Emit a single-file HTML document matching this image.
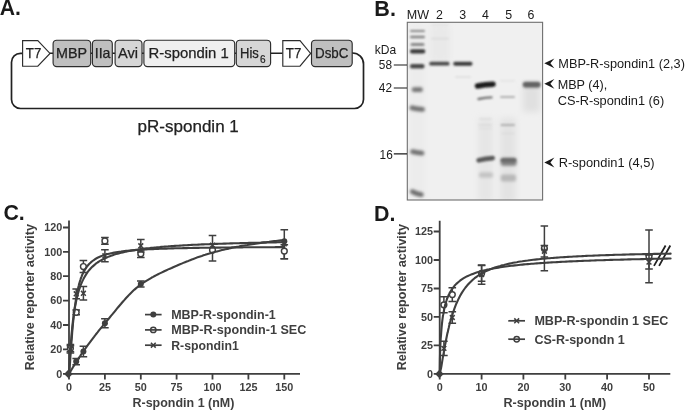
<!DOCTYPE html>
<html><head><meta charset="utf-8"><title>Figure</title>
<style>
html,body{margin:0;padding:0;background:#fff;}
svg{display:block;}
text{font-family:"Liberation Sans",Arial,Helvetica,sans-serif;}
.lab{font-size:14.3px;fill:#222;stroke:#222;stroke-width:0.25px;}
.b{font-weight:bold;}
.pan{font-weight:bold;font-size:22.3px;fill:#1a1a1a;}
.gt{font-size:12.4px;fill:#1a1a1a;}
.ct{font-weight:bold;font-size:10.8px;fill:#3f3f3f;}
.ca{font-weight:bold;font-size:12.4px;fill:#3f3f3f;}
.cl{font-weight:bold;font-size:12.4px;fill:#3f3f3f;}
</style></head><body>
<svg width="685" height="411" viewBox="0 0 685 411">
<defs>
<filter id="b1" filterUnits="userSpaceOnUse" x="400" y="15" width="150" height="195"><feGaussianBlur stdDeviation="0.7"/></filter>
<filter id="b2" filterUnits="userSpaceOnUse" x="400" y="15" width="150" height="195"><feGaussianBlur stdDeviation="1.1"/></filter>
<filter id="b3" filterUnits="userSpaceOnUse" x="400" y="15" width="150" height="195"><feGaussianBlur stdDeviation="1.8"/></filter>
<filter id="b4" filterUnits="userSpaceOnUse" x="400" y="15" width="150" height="195"><feGaussianBlur stdDeviation="3"/></filter>
</defs>
<rect x="0" y="0" width="685" height="411" fill="#ffffff"/>

<g id="panelA">
<text class="pan" x="-0.2" y="14.9" textLength="21.2" lengthAdjust="spacingAndGlyphs">A.</text>
<path d="M22.4,53.3 H20.5 A9,9 0 0 0 11.5,62.3 V99.5 A9,9 0 0 0 20.5,108.5 H354.5 A9,9 0 0 0 363.5,99.5 V64 A11,11 0 0 0 352.5,53 H352" fill="none" stroke="#222" stroke-width="1.7"/>
<path d="M50,53.3 H53 M90.7,53.3 H92.5 M112.3,53.3 H115 M142,53.3 H144 M234.7,53.3 H236.3 M270.6,53.3 H282.7 M310.5,53.3 H311.6" stroke="#222" stroke-width="1.4" fill="none"/>
<path d="M22.6,40.6 H37.8 L50,53.400000000000006 L37.8,66.2 H22.6 Z" fill="#fff" stroke="#2c2c2c" stroke-width="1.15"/>
<rect x="53.1" y="40.2" width="37.6" height="26.4" rx="3.6" ry="3.6" fill="#bfbfbf" stroke="#2c2c2c" stroke-width="1.15"/>
<rect x="92.4" y="40.2" width="19.9" height="26.4" rx="3.6" ry="3.6" fill="#bfbfbf" stroke="#2c2c2c" stroke-width="1.15"/>
<rect x="115.1" y="40.2" width="26.9" height="26.4" rx="3.6" ry="3.6" fill="#d6d6d6" stroke="#2c2c2c" stroke-width="1.15"/>
<rect x="143.9" y="40.2" width="90.8" height="26.4" rx="3.6" ry="3.6" fill="#efefef" stroke="#2c2c2c" stroke-width="1.15"/>
<rect x="236.3" y="40.2" width="34.3" height="26.4" rx="3.6" ry="3.6" fill="#d6d6d6" stroke="#2c2c2c" stroke-width="1.15"/>
<path d="M282.8,40.6 H300 L310.6,53.400000000000006 L300,66.2 H282.8 Z" fill="#fff" stroke="#2c2c2c" stroke-width="1.15"/>
<rect x="311.5" y="40.2" width="40.7" height="26.4" rx="3.6" ry="3.6" fill="#bfbfbf" stroke="#2c2c2c" stroke-width="1.15"/>
<text class="lab" x="25.8" y="58.4" textLength="15.5" lengthAdjust="spacingAndGlyphs">T7</text>
<text class="lab" x="56" y="58.4" textLength="31" lengthAdjust="spacingAndGlyphs">MBP</text>
<text class="lab" x="94.7" y="58.4" textLength="15.8" lengthAdjust="spacingAndGlyphs">IIa</text>
<text class="lab" x="118" y="58.4" textLength="20" lengthAdjust="spacingAndGlyphs">Avi</text>
<text class="lab" x="148.5" y="58.4" textLength="80.2" lengthAdjust="spacingAndGlyphs">R-spondin 1</text>
<text class="lab" x="240" y="58.4" textLength="18.8" lengthAdjust="spacingAndGlyphs">His</text>
<text x="260" y="62.8" font-size="10.4" fill="#222" stroke="#222" stroke-width="0.2" textLength="5.6" lengthAdjust="spacingAndGlyphs">6</text>
<text class="lab" x="285.8" y="58.4" textLength="15.5" lengthAdjust="spacingAndGlyphs">T7</text>
<text class="lab" x="315" y="58.4" textLength="33.4" lengthAdjust="spacingAndGlyphs">DsbC</text>
<text x="137.6" y="131.8" font-size="16.2" fill="#222" stroke="#222" stroke-width="0.25" textLength="101.2" lengthAdjust="spacingAndGlyphs">pR-spondin 1</text>
</g>
<g id="panelB">
<text class="pan" x="374.3" y="15.5" textLength="21.6" lengthAdjust="spacingAndGlyphs">B.</text>
<clipPath id="gelclip"><rect x="407.3" y="22.3" width="135.3" height="177.7"/></clipPath>
<rect x="407.3" y="22.3" width="135.3" height="177.7" fill="#f0f0f0"/>
<g clip-path="url(#gelclip)">
<g filter="url(#b4)">
<rect x="430" y="24" width="20" height="38" fill="#e9e9e9"/>
<rect x="478" y="118" width="15" height="85" fill="#e6e6e6"/>
<rect x="500" y="118" width="16" height="85" fill="#e3e3e3"/>
<rect x="523" y="86" width="17" height="26" fill="#e0e0e0"/>
<rect x="410" y="24" width="15" height="175" fill="#ececec"/>
</g>
<rect x="410" y="30.1" width="15.0" height="2" rx="1.0" fill="#8a8a8a" filter="url(#b2)" opacity="1"/>
<rect x="410" y="35.7" width="15.0" height="2.6" rx="1.3" fill="#858585" filter="url(#b2)" opacity="1"/>
<rect x="410.5" y="43.1" width="14.0" height="3" rx="1.5" fill="#8a8a8a" filter="url(#b2)" opacity="1"/>
<rect x="410" y="49.3" width="15.3" height="4.2" rx="2.0" fill="#3a3a3a" filter="url(#b2)" opacity="1"/>
<rect x="410" y="64.0" width="14.5" height="4.4" rx="2.0" fill="#4a4a4a" filter="url(#b2)" opacity="1"/>
<rect x="411.8" y="87.3" width="11.0" height="4.8" rx="2.0" fill="#747474" filter="url(#b3)" opacity="1"/>
<path d="M412,107.8 Q417.3,109.1 422.6,109.3" fill="none" stroke="#707070" stroke-width="4.8" stroke-linecap="round" filter="url(#b3)" opacity="1"/>
<path d="M412.6,151.7 Q417.3,152.9 422,153.2" fill="none" stroke="#707070" stroke-width="4.8" stroke-linecap="round" filter="url(#b3)" opacity="1"/>
<path d="M412.3,191.7 Q416.8,194.2 421.3,194.7" fill="none" stroke="#6c6c6c" stroke-width="4.8" stroke-linecap="round" filter="url(#b3)" opacity="1"/>
<rect x="429.2" y="61.8" width="20.4" height="3.8" rx="1.9" fill="#484848" filter="url(#b2)" opacity="1"/>
<rect x="453.2" y="61.7" width="19.3" height="4" rx="2.0" fill="#3a3a3a" filter="url(#b2)" opacity="1"/>
<rect x="431" y="37.9" width="18.0" height="1.4" rx="0.7" fill="#d6d6d6" filter="url(#b2)" opacity="1"/>
<rect x="431" y="24.4" width="18.0" height="1.2" rx="0.6" fill="#dedede" filter="url(#b2)" opacity="1"/>
<rect x="455" y="76.2" width="16.0" height="1.6" rx="0.8" fill="#dcdcdc" filter="url(#b2)" opacity="1"/>
<path d="M477.5,86.0 Q485.25,84.5 493,84.2" fill="none" stroke="#1e1e1e" stroke-width="5.4" stroke-linecap="round" filter="url(#b2)" opacity="1"/>
<path d="M478.5,99.0 Q485.0,97.6 491.5,97.4" fill="none" stroke="#767676" stroke-width="2.4" stroke-linecap="round" filter="url(#b2)" opacity="1"/>
<rect x="478.5" y="124.0" width="13.5" height="2" rx="1.0" fill="#dcdcdc" filter="url(#b2)" opacity="1"/>
<path d="M478.8,160.3 Q485.70000000000005,158.4 492.6,158.1" fill="none" stroke="#5a5a5a" stroke-width="4.8" stroke-linecap="round" filter="url(#b2)" opacity="1"/>
<rect x="479" y="172.2" width="14.0" height="5.5" rx="2.0" fill="#c4c4c4" filter="url(#b3)" opacity="1"/>
<rect x="479" y="118.2" width="13.0" height="1.6" rx="0.8" fill="#dcdcdc" filter="url(#b2)" opacity="1"/>
<rect x="479" y="127.7" width="13.0" height="1.6" rx="0.8" fill="#dedede" filter="url(#b2)" opacity="1"/>
<rect x="500" y="96.0" width="15.0" height="2" rx="1.0" fill="#b0b0b0" filter="url(#b2)" opacity="1"/>
<rect x="500" y="80.1" width="15.0" height="1.4" rx="0.7" fill="#e2e2e2" filter="url(#b2)" opacity="1"/>
<rect x="500.5" y="124.1" width="14.5" height="1.8" rx="0.9" fill="#b0b0b0" filter="url(#b2)" opacity="1"/>
<rect x="501" y="132.7" width="14.0" height="1.6" rx="0.8" fill="#dcdcdc" filter="url(#b2)" opacity="1"/>
<rect x="500.8" y="157.8" width="15.7" height="8" rx="2.0" fill="#808080" filter="url(#b3)" opacity="1"/>
<rect x="500.8" y="158.7" width="15.2" height="3" rx="1.5" fill="#666" filter="url(#b2)" opacity="1"/>
<rect x="500.8" y="174.5" width="15.2" height="7" rx="2.0" fill="#b8b8b8" filter="url(#b3)" opacity="1"/>
<rect x="523" y="81.8" width="17.3" height="6" rx="2.0" fill="#6a6a6a" filter="url(#b3)" opacity="1"/>
<rect x="523.5" y="83.2" width="16.5" height="2.5" rx="1.2" fill="#5e5e5e" filter="url(#b2)" opacity="1"/>
</g>
<rect x="407.3" y="22.3" width="135.3" height="177.7" fill="none" stroke="#6e6e6e" stroke-width="1.1"/>
<text class="gt" x="406.8" y="19" textLength="22.3" lengthAdjust="spacingAndGlyphs">MW</text>
<text class="gt" x="439.5" y="19" text-anchor="middle">2</text>
<text class="gt" x="462.6" y="19" text-anchor="middle">3</text>
<text class="gt" x="485.4" y="19" text-anchor="middle">4</text>
<text class="gt" x="508.6" y="19" text-anchor="middle">5</text>
<text class="gt" x="531" y="19" text-anchor="middle">6</text>
<text class="gt" x="374.8" y="53.7" textLength="21.4" lengthAdjust="spacingAndGlyphs">kDa</text>
<text class="gt" x="378.8" y="69.4" textLength="13.2" lengthAdjust="spacingAndGlyphs">58</text>
<text class="gt" x="378.8" y="92.2" textLength="13.2" lengthAdjust="spacingAndGlyphs">42</text>
<text class="gt" x="379.6" y="158.6" textLength="13.2" lengthAdjust="spacingAndGlyphs">16</text>
<path d="M393.8,65 H407 M393.8,88 H407 M393.8,153.9 H407" stroke="#1a1a1a" stroke-width="1.15" fill="none"/>
<path d="M544.3,63.3 L554.4,58.4 L550.4,63.3 L554.4,68.2 Z" fill="#1a1a1a"/>
<path d="M544.3,83.8 L554.4,78.89999999999999 L550.4,83.8 L554.4,88.7 Z" fill="#1a1a1a"/>
<path d="M544.3,162.5 L554.4,157.6 L550.4,162.5 L554.4,167.4 Z" fill="#1a1a1a"/>
<text class="gt" x="558.3" y="68.1" textLength="126.6" lengthAdjust="spacingAndGlyphs">MBP-R-spondin1 (2,3)</text>
<text class="gt" x="557.7" y="88.7" textLength="49.5" lengthAdjust="spacingAndGlyphs">MBP (4),</text>
<text class="gt" x="557.7" y="104.7" textLength="106.5" lengthAdjust="spacingAndGlyphs">CS-R-spondin1 (6)</text>
<text class="gt" x="558.8" y="167.3" textLength="95.8" lengthAdjust="spacingAndGlyphs">R-spondin1 (4,5)</text>
</g>
<g id="panelC">
<text class="pan" x="3.4" y="219.6" textLength="21.4" lengthAdjust="spacingAndGlyphs">C.</text>
<path d="M69.0,220.4 V373.8 M68.3,373.8 H300 M69.0,373.8 V379.40000000000003 M104.9,373.8 V379.40000000000003 M140.8,373.8 V379.40000000000003 M176.6,373.8 V379.40000000000003 M212.5,373.8 V379.40000000000003 M248.4,373.8 V379.40000000000003 M284.3,373.8 V379.40000000000003 M63.0,373.8 H69.0 M63.0,349.4 H69.0 M63.0,325.0 H69.0 M63.0,300.6 H69.0 M63.0,276.2 H69.0 M63.0,251.9 H69.0 M63.0,227.5 H69.0" fill="none" stroke="#3f3f3f" stroke-width="1.8"/>
<text class="ct" x="69.0" y="391" text-anchor="middle">0</text>
<text class="ct" x="104.9" y="391" text-anchor="middle">25</text>
<text class="ct" x="140.8" y="391" text-anchor="middle">50</text>
<text class="ct" x="176.6" y="391" text-anchor="middle">75</text>
<text class="ct" x="212.5" y="391" text-anchor="middle">100</text>
<text class="ct" x="248.4" y="391" text-anchor="middle">125</text>
<text class="ct" x="284.3" y="391" text-anchor="middle">150</text>
<text class="ct" x="62.2" y="377.6" text-anchor="end">0</text>
<text class="ct" x="62.2" y="353.2" text-anchor="end">20</text>
<text class="ct" x="62.2" y="328.8" text-anchor="end">40</text>
<text class="ct" x="62.2" y="304.4" text-anchor="end">60</text>
<text class="ct" x="62.2" y="280.0" text-anchor="end">80</text>
<text class="ct" x="62.2" y="255.7" text-anchor="end">100</text>
<text class="ct" x="62.2" y="231.3" text-anchor="end">120</text>
<text class="ca" transform="translate(34,370.3) rotate(-90)" textLength="146.3" lengthAdjust="spacingAndGlyphs">Relative reporter activity</text>
<text class="ca" x="132.5" y="407.2" textLength="101.9" lengthAdjust="spacingAndGlyphs">R-spondin 1 (nM)</text>
<path d="M76.2,358.6 V364.7 M72.4,358.6 H80.0 M72.4,364.7 H80.0" fill="none" stroke="#3f3f3f" stroke-width="1.5"/>
<circle cx="76.2" cy="361.6" r="3.0" fill="#3f3f3f"/>
<path d="M83.4,346.2 V356.7 M79.6,346.2 H87.2 M79.6,356.7 H87.2" fill="none" stroke="#3f3f3f" stroke-width="1.5"/>
<circle cx="83.4" cy="351.5" r="3.0" fill="#3f3f3f"/>
<path d="M104.9,318.8 V327.8 M101.1,318.8 H108.7 M101.1,327.8 H108.7" fill="none" stroke="#3f3f3f" stroke-width="1.5"/>
<circle cx="104.9" cy="323.3" r="3.0" fill="#3f3f3f"/>
<path d="M140.8,281.0 V287.1 M137.0,281.0 H144.6 M137.0,287.1 H144.6" fill="none" stroke="#3f3f3f" stroke-width="1.5"/>
<circle cx="140.8" cy="284.0" r="3.0" fill="#3f3f3f"/>
<circle cx="212.5" cy="250.6" r="3.0" fill="#3f3f3f"/>
<circle cx="284.3" cy="241.2" r="3.0" fill="#3f3f3f"/>
<path d="M212.5,235.5 V261.1 M208.7,235.5 H216.3 M208.7,261.1 H216.3" fill="none" stroke="#3f3f3f" stroke-width="1.5"/>
<path d="M284.3,229.7 V258.8 M280.5,229.7 H288.1 M280.5,258.8 H288.1" fill="none" stroke="#3f3f3f" stroke-width="1.5"/>
<path d="M284.3,244.7 V258.8 M280.5,244.7 H288.1 M280.5,258.8 H288.1" fill="none" stroke="#3f3f3f" stroke-width="1.5"/>
<path d="M70.4,344.5 V351.8 M66.6,344.5 H74.2 M66.6,351.8 H74.2" fill="none" stroke="#3f3f3f" stroke-width="1.5"/>
<circle cx="70.4" cy="348.2" r="2.9" fill="#fff" stroke="#3f3f3f" stroke-width="1.45"/>
<path d="M76.2,309.9 V314.8 M72.4,309.9 H80.0 M72.4,314.8 H80.0" fill="none" stroke="#3f3f3f" stroke-width="1.5"/>
<circle cx="76.2" cy="312.3" r="2.9" fill="#fff" stroke="#3f3f3f" stroke-width="1.45"/>
<path d="M83.4,260.4 V272.6 M79.6,260.4 H87.2 M79.6,272.6 H87.2" fill="none" stroke="#3f3f3f" stroke-width="1.5"/>
<circle cx="83.4" cy="266.5" r="2.9" fill="#fff" stroke="#3f3f3f" stroke-width="1.45"/>
<path d="M104.9,237.6 V244.2 M101.1,237.6 H108.7 M101.1,244.2 H108.7" fill="none" stroke="#3f3f3f" stroke-width="1.5"/>
<circle cx="104.9" cy="240.9" r="2.9" fill="#fff" stroke="#3f3f3f" stroke-width="1.45"/>
<path d="M140.8,250.1 V257.5 M137.0,250.1 H144.6 M137.0,257.5 H144.6" fill="none" stroke="#3f3f3f" stroke-width="1.5"/>
<circle cx="140.8" cy="253.8" r="2.9" fill="#fff" stroke="#3f3f3f" stroke-width="1.45"/>
<circle cx="212.5" cy="250.0" r="2.9" fill="#fff" stroke="#3f3f3f" stroke-width="1.45"/>
<circle cx="284.3" cy="251.1" r="2.9" fill="#fff" stroke="#3f3f3f" stroke-width="1.45"/>
<path d="M70.4,345.8 V353.1 M66.6,345.8 H74.2 M66.6,353.1 H74.2" fill="none" stroke="#3f3f3f" stroke-width="1.5"/>
<path d="M68.0,347.0 L72.8,351.8 M68.0,351.8 L72.8,347.0" fill="none" stroke="#3f3f3f" stroke-width="1.5"/>
<path d="M76.2,288.9 V298.7 M72.4,288.9 H80.0 M72.4,298.7 H80.0" fill="none" stroke="#3f3f3f" stroke-width="1.5"/>
<path d="M73.8,291.4 L78.6,296.2 M73.8,296.2 L78.6,291.4" fill="none" stroke="#3f3f3f" stroke-width="1.5"/>
<path d="M83.4,286.6 V300.0 M79.6,286.6 H87.2 M79.6,300.0 H87.2" fill="none" stroke="#3f3f3f" stroke-width="1.5"/>
<path d="M81.0,290.9 L85.8,295.7 M81.0,295.7 L85.8,290.9" fill="none" stroke="#3f3f3f" stroke-width="1.5"/>
<path d="M104.9,249.7 V261.8 M101.1,249.7 H108.7 M101.1,261.8 H108.7" fill="none" stroke="#3f3f3f" stroke-width="1.5"/>
<path d="M102.5,253.4 L107.3,258.2 M102.5,258.2 L107.3,253.4" fill="none" stroke="#3f3f3f" stroke-width="1.5"/>
<path d="M140.8,239.4 V252.1 M137.0,239.4 H144.6 M137.0,252.1 H144.6" fill="none" stroke="#3f3f3f" stroke-width="1.5"/>
<path d="M138.4,243.4 L143.2,248.2 M138.4,248.2 L143.2,243.4" fill="none" stroke="#3f3f3f" stroke-width="1.5"/>
<path d="M210.1,242.7 L214.9,247.5 M210.1,247.5 L214.9,242.7" fill="none" stroke="#3f3f3f" stroke-width="1.5"/>
<path d="M281.9,241.5 L286.7,246.3 M281.9,246.3 L286.7,241.5" fill="none" stroke="#3f3f3f" stroke-width="1.5"/>
<polyline points="69.0,373.8 69.4,373.2 69.7,372.6 70.1,372.0 70.4,371.4 70.8,370.8 71.2,370.2 71.5,369.6 71.9,369.0 72.2,368.4 72.6,367.8 72.9,367.2 73.3,366.7 73.7,366.1 74.0,365.5 74.4,364.9 74.7,364.4 75.1,363.8 75.5,363.2 75.8,362.7 76.2,362.1 76.5,361.5 76.9,361.0 77.3,360.4 77.6,359.9 78.0,359.3 78.3,358.8 78.7,358.2 79.0,357.7 79.4,357.1 79.8,356.6 80.1,356.1 80.5,355.5 80.8,355.0 81.2,354.5 81.6,353.9 81.9,353.4 82.3,352.9 82.6,352.4 83.0,351.9 83.4,351.4 84.1,350.4 85.8,348.0 87.4,345.7 89.1,343.4 90.8,341.1 92.5,338.9 94.2,336.7 95.8,334.5 97.5,332.4 99.2,330.2 100.9,328.1 102.6,326.1 104.3,324.1 105.9,322.0 107.6,320.0 109.3,318.0 111.0,315.9 112.7,313.9 114.4,311.8 116.0,309.8 117.7,307.7 119.4,305.7 121.1,303.8 122.8,301.8 124.5,299.9 126.1,298.0 127.8,296.2 129.5,294.4 131.2,292.7 132.9,291.1 134.5,289.6 136.2,288.1 137.9,286.7 139.6,285.4 141.3,284.2 143.0,283.0 144.6,281.9 146.3,280.8 148.0,279.8 149.7,278.8 151.4,277.8 153.1,276.9 154.7,276.0 156.4,275.1 158.1,274.2 159.8,273.4 161.5,272.6 163.2,271.8 164.8,271.0 166.5,270.2 168.2,269.4 169.9,268.7 171.6,268.0 173.2,267.2 174.9,266.5 176.6,265.8 178.3,265.0 180.0,264.3 181.7,263.6 183.3,262.9 185.0,262.2 186.7,261.5 188.4,260.9 190.1,260.2 191.8,259.5 193.4,258.9 195.1,258.3 196.8,257.6 198.5,257.0 200.2,256.4 201.8,255.9 203.5,255.3 205.2,254.8 206.9,254.2 208.6,253.7 210.3,253.2 211.9,252.7 213.6,252.3 215.3,251.8 217.0,251.4 218.7,251.0 220.4,250.5 222.0,250.1 223.7,249.7 225.4,249.3 227.1,248.9 228.8,248.6 230.5,248.2 232.1,247.8 233.8,247.5 235.5,247.1 237.2,246.8 238.9,246.5 240.5,246.1 242.2,245.8 243.9,245.5 245.6,245.2 247.3,245.0 249.0,244.7 250.6,244.4 252.3,244.2 254.0,243.9 255.7,243.6 257.4,243.4 259.1,243.1 260.7,242.9 262.4,242.6 264.1,242.4 265.8,242.2 267.5,242.0 269.2,241.8 270.8,241.5 272.5,241.3 274.2,241.1 275.9,241.0 277.6,240.8 279.2,240.6 280.9,240.4 282.6,240.3 284.3,240.1" fill="none" stroke="#3f3f3f" stroke-width="2.1" stroke-linejoin="round" stroke-linecap="round"/>
<polyline points="69.0,373.8 69.4,371.0 69.7,366.8 70.1,361.9 70.4,356.8 70.8,351.6 71.2,346.5 71.5,341.6 71.9,336.9 72.2,332.5 72.6,328.2 72.9,324.3 73.3,320.5 73.7,317.0 74.0,313.7 74.4,310.7 74.7,307.8 75.1,305.1 75.5,302.6 75.8,300.2 76.2,298.0 76.5,295.9 76.9,293.9 77.3,292.1 77.6,290.4 78.0,288.7 78.3,287.2 78.7,285.8 79.0,284.4 79.4,283.1 79.8,281.9 80.1,280.7 80.5,279.6 80.8,278.5 81.2,277.5 81.6,276.6 81.9,275.7 82.3,274.8 82.6,274.0 83.0,273.2 83.4,272.5 84.1,271.1 85.8,268.3 87.4,266.0 89.1,264.0 90.8,262.4 92.5,261.0 94.2,259.8 95.8,258.7 97.5,257.8 99.2,257.0 100.9,256.3 102.6,255.6 104.3,255.1 105.9,254.6 107.6,254.1 109.3,253.7 111.0,253.3 112.7,252.9 114.4,252.6 116.0,252.3 117.7,252.0 119.4,251.8 121.1,251.6 122.8,251.3 124.5,251.1 126.1,250.9 127.8,250.8 129.5,250.6 131.2,250.4 132.9,250.3 134.5,250.2 136.2,250.0 137.9,249.9 139.6,249.8 141.3,249.7 143.0,249.6 144.6,249.5 146.3,249.4 148.0,249.3 149.7,249.2 151.4,249.1 153.1,249.1 154.7,249.0 156.4,248.9 158.1,248.9 159.8,248.8 161.5,248.7 163.2,248.7 164.8,248.6 166.5,248.6 168.2,248.5 169.9,248.5 171.6,248.4 173.2,248.4 174.9,248.3 176.6,248.3 178.3,248.3 180.0,248.2 181.7,248.2 183.3,248.1 185.0,248.1 186.7,248.1 188.4,248.0 190.1,248.0 191.8,248.0 193.4,247.9 195.1,247.9 196.8,247.9 198.5,247.9 200.2,247.8 201.8,247.8 203.5,247.8 205.2,247.8 206.9,247.7 208.6,247.7 210.3,247.7 211.9,247.7 213.6,247.6 215.3,247.6 217.0,247.6 218.7,247.6 220.4,247.6 222.0,247.5 223.7,247.5 225.4,247.5 227.1,247.5 228.8,247.5 230.5,247.5 232.1,247.4 233.8,247.4 235.5,247.4 237.2,247.4 238.9,247.4 240.5,247.4 242.2,247.4 243.9,247.3 245.6,247.3 247.3,247.3 249.0,247.3 250.6,247.3 252.3,247.3 254.0,247.3 255.7,247.3 257.4,247.3 259.1,247.2 260.7,247.2 262.4,247.2 264.1,247.2 265.8,247.2 267.5,247.2 269.2,247.2 270.8,247.2 272.5,247.2 274.2,247.2 275.9,247.1 277.6,247.1 279.2,247.1 280.9,247.1 282.6,247.1 284.3,247.1" fill="none" stroke="#3f3f3f" stroke-width="2.1" stroke-linejoin="round" stroke-linecap="round"/>
<polyline points="69.0,373.8 69.4,366.4 69.7,359.7 70.1,353.7 70.4,348.3 70.8,343.3 71.2,338.8 71.5,334.6 71.9,330.8 72.2,327.3 72.6,324.0 72.9,321.0 73.3,318.2 73.7,315.5 74.0,313.1 74.4,310.7 74.7,308.6 75.1,306.5 75.5,304.6 75.8,302.8 76.2,301.0 76.5,299.4 76.9,297.8 77.3,296.4 77.6,294.9 78.0,293.6 78.3,292.3 78.7,291.1 79.0,289.9 79.4,288.8 79.8,287.8 80.1,286.7 80.5,285.8 80.8,284.8 81.2,283.9 81.6,283.0 81.9,282.2 82.3,281.4 82.6,280.6 83.0,279.9 83.4,279.1 84.1,277.8 85.8,274.9 87.4,272.4 89.1,270.2 90.8,268.3 92.5,266.6 94.2,265.1 95.8,263.7 97.5,262.5 99.2,261.4 100.9,260.4 102.6,259.5 104.3,258.6 105.9,257.8 107.6,257.1 109.3,256.4 111.0,255.8 112.7,255.2 114.4,254.6 116.0,254.1 117.7,253.7 119.4,253.2 121.1,252.8 122.8,252.4 124.5,252.0 126.1,251.6 127.8,251.3 129.5,251.0 131.2,250.7 132.9,250.4 134.5,250.1 136.2,249.8 137.9,249.6 139.6,249.3 141.3,249.1 143.0,248.9 144.6,248.6 146.3,248.4 148.0,248.2 149.7,248.1 151.4,247.9 153.1,247.7 154.7,247.5 156.4,247.4 158.1,247.2 159.8,247.1 161.5,246.9 163.2,246.8 164.8,246.6 166.5,246.5 168.2,246.4 169.9,246.2 171.6,246.1 173.2,246.0 174.9,245.9 176.6,245.8 178.3,245.7 180.0,245.6 181.7,245.5 183.3,245.4 185.0,245.3 186.7,245.2 188.4,245.1 190.1,245.0 191.8,244.9 193.4,244.8 195.1,244.8 196.8,244.7 198.5,244.6 200.2,244.5 201.8,244.4 203.5,244.4 205.2,244.3 206.9,244.2 208.6,244.2 210.3,244.1 211.9,244.0 213.6,244.0 215.3,243.9 217.0,243.9 218.7,243.8 220.4,243.7 222.0,243.7 223.7,243.6 225.4,243.6 227.1,243.5 228.8,243.5 230.5,243.4 232.1,243.4 233.8,243.3 235.5,243.3 237.2,243.2 238.9,243.2 240.5,243.1 242.2,243.1 243.9,243.0 245.6,243.0 247.3,243.0 249.0,242.9 250.6,242.9 252.3,242.8 254.0,242.8 255.7,242.8 257.4,242.7 259.1,242.7 260.7,242.7 262.4,242.6 264.1,242.6 265.8,242.6 267.5,242.5 269.2,242.5 270.8,242.5 272.5,242.4 274.2,242.4 275.9,242.4 277.6,242.3 279.2,242.3 280.9,242.3 282.6,242.2 284.3,242.2" fill="none" stroke="#3f3f3f" stroke-width="2.1" stroke-linejoin="round" stroke-linecap="round"/>
<path d="M64.10000000000001,373.90000000000003 L68.4,369.6 L72.7,373.90000000000003 L68.4,378.20000000000005 Z" fill="#3f3f3f"/>
<path d="M145,314.6 H161.6" stroke="#3f3f3f" stroke-width="1.7"/>
<circle cx="153.3" cy="314.6" r="3.0" fill="#3f3f3f"/>
<text class="cl" x="171.2" y="318.9" textLength="104.6" lengthAdjust="spacingAndGlyphs">MBP-R-spondin-1</text>
<path d="M145,329.9 H161.6" stroke="#3f3f3f" stroke-width="1.7"/>
<circle cx="153.3" cy="329.9" r="2.7" fill="none" stroke="#3f3f3f" stroke-width="1.45"/>
<text class="cl" x="171.2" y="334.2" textLength="135.2" lengthAdjust="spacingAndGlyphs">MBP-R-spondin-1 SEC</text>
<path d="M145,345.2 H161.6" stroke="#3f3f3f" stroke-width="1.7"/>
<path d="M150.9,342.8 L155.7,347.6 M150.9,347.6 L155.7,342.8" fill="none" stroke="#3f3f3f" stroke-width="1.5"/>
<text class="cl" x="171.2" y="349.5" textLength="67.6" lengthAdjust="spacingAndGlyphs">R-spondin1</text>
</g>
<g id="panelD">
<text class="pan" x="374.1" y="220.7" textLength="21.4" lengthAdjust="spacingAndGlyphs">D.</text>
<path d="M439.7,220.7 V373.9 M439.0,373.9 H670.3 M439.7,373.9 V379.5 M481.6,373.9 V379.5 M523.4,373.9 V379.5 M565.3,373.9 V379.5 M607.1,373.9 V379.5 M649.0,373.9 V379.5 M433.7,373.9 H439.7 M433.7,345.4 H439.7 M433.7,316.9 H439.7 M433.7,288.5 H439.7 M433.7,260.0 H439.7 M433.7,231.5 H439.7" fill="none" stroke="#3f3f3f" stroke-width="1.8"/>
<text class="ct" x="439.7" y="391" text-anchor="middle">0</text>
<text class="ct" x="481.6" y="391" text-anchor="middle">10</text>
<text class="ct" x="523.4" y="391" text-anchor="middle">20</text>
<text class="ct" x="565.3" y="391" text-anchor="middle">30</text>
<text class="ct" x="607.1" y="391" text-anchor="middle">40</text>
<text class="ct" x="649.0" y="391" text-anchor="middle">50</text>
<text class="ct" x="432.9" y="377.7" text-anchor="end">0</text>
<text class="ct" x="432.9" y="349.2" text-anchor="end">25</text>
<text class="ct" x="432.9" y="320.8" text-anchor="end">50</text>
<text class="ct" x="432.9" y="292.3" text-anchor="end">75</text>
<text class="ct" x="432.9" y="263.8" text-anchor="end">100</text>
<text class="ct" x="432.9" y="235.3" text-anchor="end">125</text>
<text class="ca" transform="translate(405.7,370.3) rotate(-90)" textLength="146.3" lengthAdjust="spacingAndGlyphs">Relative reporter activity</text>
<text class="ca" x="503.5" y="407.2" textLength="102.8" lengthAdjust="spacingAndGlyphs">R-spondin 1 (nM)</text>
<path d="M654,265.9 L665.6,245.5 M659.1,265.9 L670.3,245.5" stroke="#222" stroke-width="1.8" fill="none"/>
<path d="M443.9,296.7 V312.8 M440.1,296.7 H447.7 M440.1,312.8 H447.7" fill="none" stroke="#3f3f3f" stroke-width="1.5"/>
<circle cx="443.9" cy="304.8" r="2.9" fill="#fff" stroke="#3f3f3f" stroke-width="1.45"/>
<path d="M452.3,287.8 V301.5 M448.5,287.8 H456.1 M448.5,301.5 H456.1" fill="none" stroke="#3f3f3f" stroke-width="1.5"/>
<circle cx="452.3" cy="294.6" r="2.9" fill="#fff" stroke="#3f3f3f" stroke-width="1.45"/>
<path d="M481.6,265.4 V281.3 M477.8,265.4 H485.4 M477.8,281.3 H485.4" fill="none" stroke="#3f3f3f" stroke-width="1.5"/>
<circle cx="481.6" cy="273.3" r="2.9" fill="#fff" stroke="#3f3f3f" stroke-width="1.45"/>
<path d="M544.4,226.1 V270.7 M540.6,226.1 H548.1 M540.6,270.7 H548.1" fill="none" stroke="#3f3f3f" stroke-width="1.5"/>
<circle cx="544.4" cy="248.4" r="2.9" fill="#fff" stroke="#3f3f3f" stroke-width="1.45"/>
<path d="M649.0,229.9 V282.8 M645.2,229.9 H652.8 M645.2,282.8 H652.8" fill="none" stroke="#3f3f3f" stroke-width="1.5"/>
<circle cx="649.0" cy="256.4" r="2.9" fill="#fff" stroke="#3f3f3f" stroke-width="1.45"/>
<path d="M443.9,341.2 V355.6 M440.1,341.2 H447.7 M440.1,355.6 H447.7" fill="none" stroke="#3f3f3f" stroke-width="1.5"/>
<path d="M441.5,346.0 L446.3,350.8 M441.5,350.8 L446.3,346.0" fill="none" stroke="#3f3f3f" stroke-width="1.5"/>
<path d="M452.3,311.8 V323.2 M448.5,311.8 H456.1 M448.5,323.2 H456.1" fill="none" stroke="#3f3f3f" stroke-width="1.5"/>
<path d="M449.9,315.1 L454.7,319.9 M449.9,319.9 L454.7,315.1" fill="none" stroke="#3f3f3f" stroke-width="1.5"/>
<path d="M481.6,264.9 V284.3 M477.8,264.9 H485.4 M477.8,284.3 H485.4" fill="none" stroke="#3f3f3f" stroke-width="1.5"/>
<path d="M479.2,272.2 L484.0,277.0 M479.2,277.0 L484.0,272.2" fill="none" stroke="#3f3f3f" stroke-width="1.5"/>
<path d="M544.4,245.5 V256.9 M540.6,245.5 H548.1 M540.6,256.9 H548.1" fill="none" stroke="#3f3f3f" stroke-width="1.5"/>
<path d="M542.0,248.8 L546.8,253.6 M542.0,253.6 L546.8,248.8" fill="none" stroke="#3f3f3f" stroke-width="1.5"/>
<path d="M649.0,255.1 V269.0 M645.2,255.1 H652.8 M645.2,269.0 H652.8" fill="none" stroke="#3f3f3f" stroke-width="1.5"/>
<path d="M646.6,259.7 L651.4,264.5 M646.6,264.5 L651.4,259.7" fill="none" stroke="#3f3f3f" stroke-width="1.5"/>
<polyline points="439.7,373.9 439.9,359.7 440.1,352.4 440.3,346.8 440.5,342.4 440.7,338.6 441.0,335.3 441.2,332.4 441.4,329.8 441.6,327.5 441.8,325.3 442.0,323.4 442.2,321.6 442.4,319.9 442.6,318.3 442.8,316.8 443.0,315.5 443.3,314.2 443.5,313.0 443.7,311.8 443.9,310.7 444.1,309.7 444.3,308.7 444.5,307.7 444.7,306.8 444.9,306.0 445.1,305.2 445.4,304.4 445.6,303.6 445.8,302.9 446.0,302.2 446.2,301.5 446.4,300.9 446.6,300.2 446.8,299.6 447.0,299.0 447.2,298.5 447.4,297.9 447.7,297.4 447.9,296.9 448.1,296.4 448.3,295.9 448.5,295.4 448.7,294.9 448.9,294.5 449.1,294.1 449.3,293.6 449.5,293.2 449.7,292.8 450.0,292.4 450.2,292.1 450.4,291.7 450.6,291.3 450.8,291.0 451.0,290.6 451.2,290.3 451.4,290.0 451.6,289.6 451.8,289.3 452.0,289.0 452.3,288.7 452.7,288.1 454.5,285.8 456.3,283.9 458.2,282.2 460.0,280.7 461.8,279.4 463.7,278.2 465.5,277.2 467.3,276.2 469.2,275.4 471.0,274.6 472.8,273.9 474.6,273.2 476.5,272.6 478.3,272.0 480.1,271.5 482.0,271.0 483.8,270.5 485.6,270.1 487.5,269.6 489.3,269.3 491.1,268.9 493.0,268.5 494.8,268.2 496.6,267.9 498.4,267.6 500.3,267.3 502.1,267.0 503.9,266.7 505.8,266.5 507.6,266.2 509.4,266.0 511.3,265.8 513.1,265.6 514.9,265.4 516.8,265.2 518.6,265.0 520.4,264.8 522.3,264.6 524.1,264.4 525.9,264.3 527.7,264.1 529.6,264.0 531.4,263.8 533.2,263.7 535.1,263.5 536.9,263.4 538.7,263.3 540.6,263.1 542.4,263.0 544.2,262.9 546.1,262.8 547.9,262.6 549.7,262.5 551.5,262.4 553.4,262.3 555.2,262.2 557.0,262.1 558.9,262.0 560.7,261.9 562.5,261.8 564.4,261.7 566.2,261.6 568.0,261.5 569.9,261.4 571.7,261.4 573.5,261.3 575.3,261.2 577.2,261.1 579.0,261.0 580.8,261.0 582.7,260.9 584.5,260.8 586.3,260.7 588.2,260.7 590.0,260.6 591.8,260.5 593.7,260.5 595.5,260.4 597.3,260.3 599.2,260.3 601.0,260.2 602.8,260.2 604.6,260.1 606.5,260.0 608.3,260.0 610.1,259.9 612.0,259.9 613.8,259.8 615.6,259.8 617.5,259.7 619.3,259.7 621.1,259.6 623.0,259.6 624.8,259.5 626.6,259.5 628.4,259.4 630.3,259.4 632.1,259.3 633.9,259.3 635.8,259.2 637.6,259.2 639.4,259.2 641.3,259.1 643.1,259.1 644.9,259.0 646.8,259.0 648.6,258.9 650.4,258.9 652.2,258.9 654.1,258.8 655.9,258.8 657.7,258.7 659.6,258.7 661.4,258.7 663.2,258.6 665.1,258.6 666.9,258.6 668.7,258.5 670.6,258.5" fill="none" stroke="#3f3f3f" stroke-width="2.1" stroke-linejoin="round" stroke-linecap="round"/>
<polyline points="439.7,373.9 439.9,373.3 440.1,372.6 440.3,371.6 440.5,370.6 440.7,369.6 441.0,368.5 441.2,367.3 441.4,366.2 441.6,365.0 441.8,363.8 442.0,362.6 442.2,361.3 442.4,360.1 442.6,358.9 442.8,357.7 443.0,356.5 443.3,355.2 443.5,354.0 443.7,352.8 443.9,351.6 444.1,350.5 444.3,349.3 444.5,348.1 444.7,347.0 444.9,345.9 445.1,344.7 445.4,343.6 445.6,342.5 445.8,341.5 446.0,340.4 446.2,339.3 446.4,338.3 446.6,337.3 446.8,336.3 447.0,335.3 447.2,334.3 447.4,333.3 447.7,332.4 447.9,331.5 448.1,330.5 448.3,329.6 448.5,328.7 448.7,327.9 448.9,327.0 449.1,326.1 449.3,325.3 449.5,324.5 449.7,323.7 450.0,322.9 450.2,322.1 450.4,321.3 450.6,320.5 450.8,319.8 451.0,319.1 451.2,318.3 451.4,317.6 451.6,316.9 451.8,316.2 452.0,315.5 452.3,314.9 452.7,313.6 454.5,308.3 456.3,303.7 458.2,299.6 460.0,296.0 461.8,292.9 463.7,290.0 465.5,287.5 467.3,285.3 469.2,283.2 471.0,281.4 472.8,279.7 474.6,278.2 476.5,276.8 478.3,275.5 480.1,274.3 482.0,273.3 483.8,272.3 485.6,271.3 487.5,270.5 489.3,269.7 491.1,268.9 493.0,268.2 494.8,267.6 496.6,267.0 498.4,266.4 500.3,265.9 502.1,265.3 503.9,264.9 505.8,264.4 507.6,264.0 509.4,263.6 511.3,263.2 513.1,262.8 514.9,262.5 516.8,262.2 518.6,261.8 520.4,261.5 522.3,261.3 524.1,261.0 525.9,260.7 527.7,260.5 529.6,260.2 531.4,260.0 533.2,259.8 535.1,259.6 536.9,259.4 538.7,259.2 540.6,259.0 542.4,258.8 544.2,258.6 546.1,258.5 547.9,258.3 549.7,258.2 551.5,258.0 553.4,257.9 555.2,257.7 557.0,257.6 558.9,257.5 560.7,257.3 562.5,257.2 564.4,257.1 566.2,257.0 568.0,256.9 569.9,256.8 571.7,256.7 573.5,256.5 575.3,256.5 577.2,256.4 579.0,256.3 580.8,256.2 582.7,256.1 584.5,256.0 586.3,255.9 588.2,255.8 590.0,255.8 591.8,255.7 593.7,255.6 595.5,255.5 597.3,255.5 599.2,255.4 601.0,255.3 602.8,255.3 604.6,255.2 606.5,255.1 608.3,255.1 610.1,255.0 612.0,255.0 613.8,254.9 615.6,254.8 617.5,254.8 619.3,254.7 621.1,254.7 623.0,254.6 624.8,254.6 626.6,254.5 628.4,254.5 630.3,254.4 632.1,254.4 633.9,254.4 635.8,254.3 637.6,254.3 639.4,254.2 641.3,254.2 643.1,254.1 644.9,254.1 646.8,254.1 648.6,254.0 650.4,254.0 652.2,254.0 654.1,253.9 655.9,253.9 657.7,253.9 659.6,253.8 661.4,253.8 663.2,253.8 665.1,253.7 666.9,253.7 668.7,253.7 670.6,253.6" fill="none" stroke="#3f3f3f" stroke-width="2.1" stroke-linejoin="round" stroke-linecap="round"/>
<path d="M435.09999999999997,374.0 L439.4,369.7 L443.7,374.0 L439.4,378.3 Z" fill="#3f3f3f"/>
<path d="M508.3,320.8 H525" stroke="#3f3f3f" stroke-width="1.7"/>
<path d="M514.3,318.4 L519.1,323.2 M514.3,323.2 L519.1,318.4" fill="none" stroke="#3f3f3f" stroke-width="1.5"/>
<text class="cl" x="534.4" y="325.1" textLength="134" lengthAdjust="spacingAndGlyphs">MBP-R-spondin 1 SEC</text>
<path d="M508.3,339.2 H525" stroke="#3f3f3f" stroke-width="1.7"/>
<circle cx="516.7" cy="339.2" r="2.7" fill="none" stroke="#3f3f3f" stroke-width="1.45"/>
<text class="cl" x="534.4" y="343.5" textLength="90.4" lengthAdjust="spacingAndGlyphs">CS-R-spondn 1</text>
</g>
</svg></body></html>
